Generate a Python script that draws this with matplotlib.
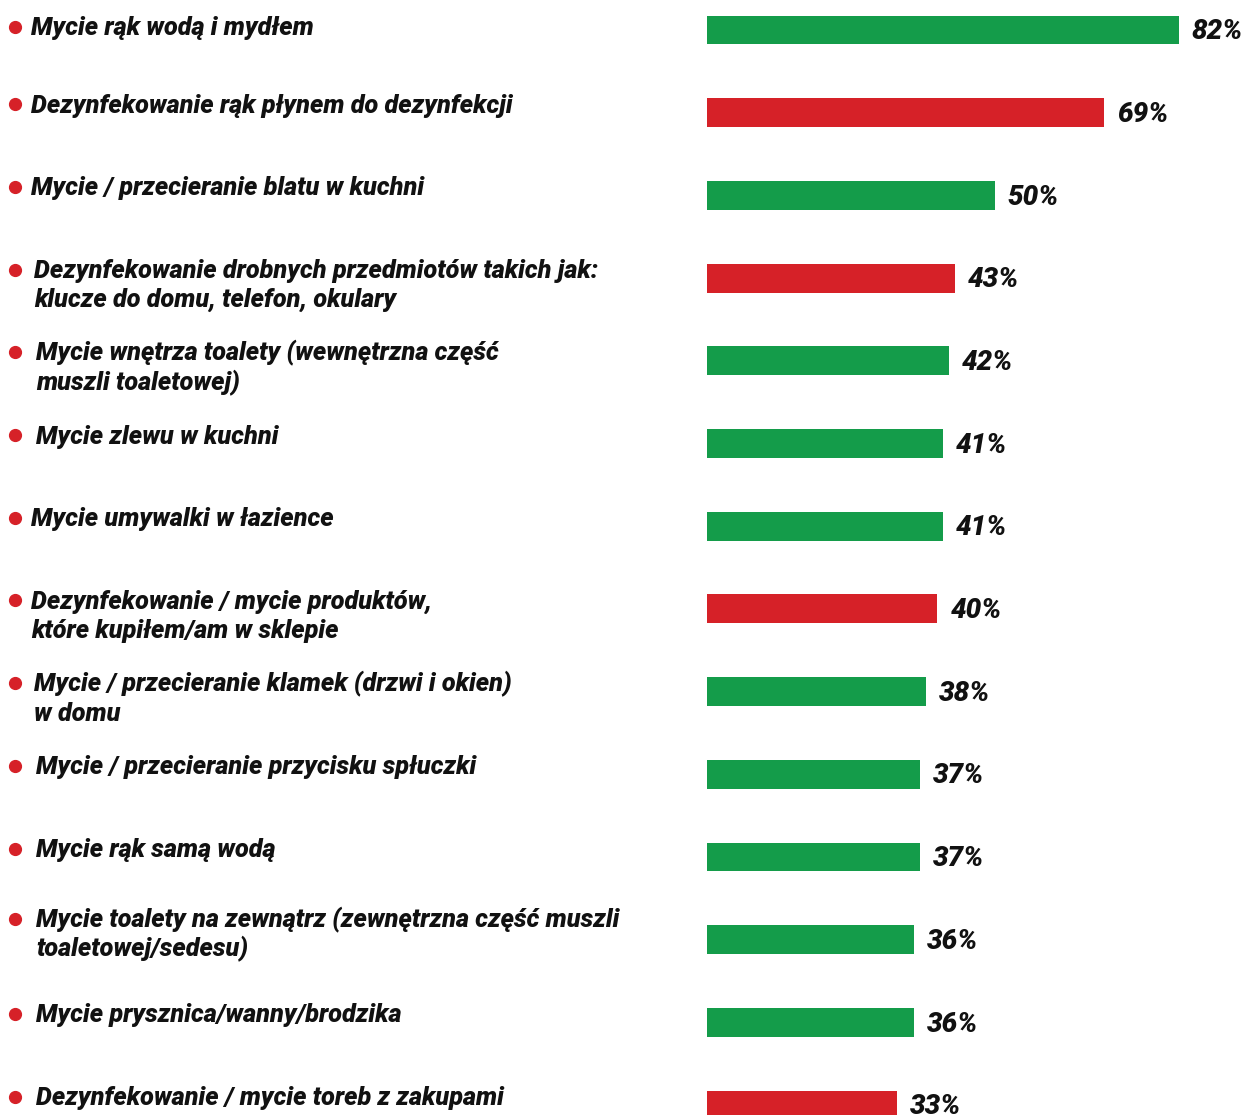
import matplotlib
matplotlib.use("Agg")
import matplotlib.pyplot as plt
import matplotlib.transforms as mtransforms

plt.rcParams["font.family"] = ["Roboto", "DejaVu Sans"]

# dane
labels = [
    "Mycie rąk wodą i mydłem",
    "Dezynfekowanie rąk płynem do dezynfekcji",
    "Mycie / przecieranie blatu w kuchni",
    "Dezynfekowanie drobnych przedmiotów takich jak:\nklucze do domu, telefon, okulary",
    "Mycie wnętrza toalety (wewnętrzna część\nmuszli toaletowej)",
    "Mycie zlewu w kuchni",
    "Mycie umywalki w łazience",
    "Dezynfekowanie / mycie produktów,\nktóre kupiłem/am w sklepie",
    "Mycie / przecieranie klamek (drzwi i okien)\nw domu",
    "Mycie / przecieranie przycisku spłuczki",
    "Mycie rąk samą wodą",
    "Mycie toalety na zewnątrz (zewnętrzna część muszli\ntoaletowej/sedesu)",
    "Mycie prysznica/wanny/brodzika",
    "Dezynfekowanie / mycie toreb z zakupami",
]
values = [82, 69, 50, 43, 42, 41, 41, 40, 38, 37, 37, 36, 36, 33]
is_disinfection = [False, True, False, True, False, False, False, True,
                   False, False, False, False, False, True]

GREEN = "#149c4a"
RED = "#d62128"
W, H = 1246, 1115

# układ (px)
row_px = 82.7
first_px = 30.0
bar_left_px = 707
px_per_pct = 5.756
line_px = 29
text_x_px = [31, 31, 31, 34, 36, 36, 31, 31, 34, 36, 36, 36, 36, 36]
baseline_dy_px = [5, 0, 0, 0, 0, 0, 0, 0, 0, 0, 0, -12, 0, 0]

fig = plt.figure(figsize=(W / 100, H / 100), dpi=100, facecolor="white")
xmax = 92
ax = fig.add_axes([bar_left_px / W, 0, xmax * px_per_pct / W, 1])
ax.set_xlim(0, xmax)
ax.set_ylim((H - first_px) / row_px, -first_px / row_px)
ax.axis("off")

colors = [RED if d else GREEN for d in is_disinfection]
ypos = list(range(len(values)))
ax.barh(ypos, values, height=0.35, color=colors)

for i, v in enumerate(values):
    ax.text(v + 13 / px_per_pct, i + 0.02, f"{v}%", ha="left", va="center",
            fontsize=20, fontweight="black", fontstyle="italic", color="#111111")

trans = mtransforms.blended_transform_factory(fig.transFigure, ax.transData)
for i, lab in enumerate(labels):
    yb = i + baseline_dy_px[i] / row_px
    ax.plot([15 / W], [yb - 8.5 / row_px], "o", ms=8.5, color=RED,
            transform=trans, clip_on=False)
    for k, line in enumerate(lab.split("\n")):
        ax.text(text_x_px[i] / W, yb + k * line_px / row_px, line, transform=trans,
                ha="left", va="baseline", fontsize=18.2, fontweight="black",
                fontstyle="italic", color="#111111")

fig.savefig("out.png", dpi=100, facecolor="white")
